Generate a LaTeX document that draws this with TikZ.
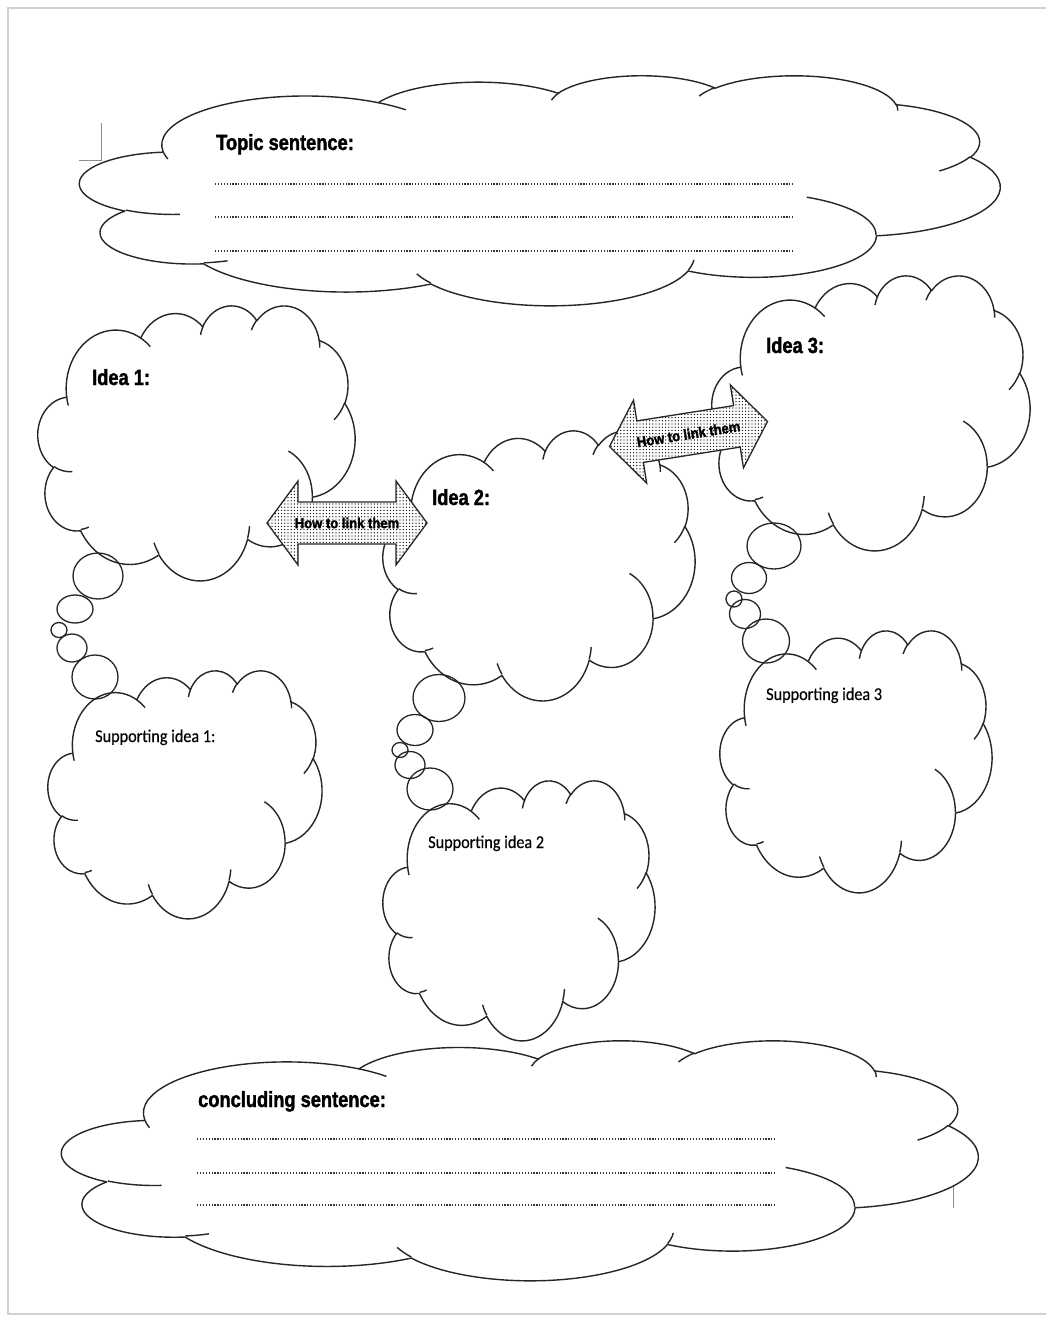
\documentclass[tikz,border=0pt]{standalone}
\usepackage{fontspec}
\usetikzlibrary{patterns,shapes.geometric}
\setmainfont{Liberation Sans}
\newfontfamily\headfont[FakeStretch=0.83, BoldFeatures={FakeBold=1.6}]{Liberation Sans}
\newfontfamily\linkfont[FakeStretch=0.9, BoldFeatures={FakeBold=1.8}]{Liberation Sans}
\newfontfamily\notefont[FakeStretch=0.9, FakeBold=0.3]{Carlito}

% dots for the link arrows
\pgfdeclarepatternformonly{linkdots}{\pgfqpoint{-1pt}{-1pt}}{\pgfqpoint{1pt}{1pt}}{\pgfqpoint{3.2pt}{3.2pt}}{%
  \pgfpathcircle{\pgfqpoint{0pt}{0pt}}{0.72pt}\pgfusepath{fill}}

% One arc of the cloud outline: id, x radius, y radius, start, sweep.
% Angles are taken as directions seen from the centre and turned into
% the parametric angles that TikZ arcs use.
\makeatletter
\newcommand\cloudarc[5]{%
  \pgfmathsetmacro\cl@s{atan2(#2*sin(#4),#3*cos(#4))}%
  \pgfmathsetmacro\cl@e{atan2(#2*sin(#4+#5),#3*cos(#4+#5))}%
  \pgfmathsetmacro\cl@d{mod(\cl@e-\cl@s+720,360)}%
  \expandafter\xdef\csname cloudarc@#1\endcsname{arc[start angle=\cl@s, delta angle=\cl@d, x radius=#2, y radius=#3]}%
}
\newcommand\ca[1]{\csname cloudarc@#1\endcsname}
% outline puffs (box 4320 x 4320)
\cloudarc{a1}{675.3}{919.0}{-190.4875}{123.7805}
\cloudarc{a2}{533.3}{726.7}{-144.1024}{89.9452}
\cloudarc{a3}{436.5}{594.5}{-145.8079}{99.7230}
\cloudarc{a4}{485.7}{659.5}{-130.9861}{117.2417}
\cloudarc{a5}{533.3}{727.3}{-78.7089}{109.0269}
\cloudarc{a6}{677.5}{922.0}{-46.2673}{130.2690}
\cloudarc{a7}{578.5}{786.7}{0.6250}{114.0333}
\cloudarc{a8}{675.2}{921.5}{22.4516}{115.1726}
\cloudarc{a9}{772.0}{1054.3}{66.2426}{75.7110}
\cloudarc{a10}{436.0}{591.8}{-274.9421}{146.7356}
\cloudarc{a11}{434.5}{594.5}{-246.8285}{152.5189}
% short inner strokes where the puffs meet
\cloudarc{i1}{434.5}{594.5}{86.7420}{26.4295}
\cloudarc{i2}{436.0}{591.8}{73.6105}{11.4475}
\cloudarc{i3}{675.2}{921.5}{137.6242}{14.0811}
\cloudarc{i4}{675.2}{921.5}{6.4533}{15.9984}
\cloudarc{i5}{578.5}{786.7}{-70.2924}{70.9174}
\cloudarc{i6}{533.3}{727.3}{30.3180}{27.7515}
\cloudarc{i7}{485.7}{659.5}{-13.7443}{14.8589}
\cloudarc{i8}{485.7}{659.5}{-149.1815}{18.1954}
\cloudarc{i9}{436.5}{594.5}{-163.4943}{17.6864}
\cloudarc{i10}{675.3}{919.0}{-66.7070}{12.3194}
\cloudarc{i11}{675.3}{919.0}{157.6544}{11.8582}
\xdef\cloudoutline{(390,1437) \ca{a1} \ca{a2} \ca{a3} \ca{a4} \ca{a5} \ca{a6}
  \ca{a7} \ca{a8} \ca{a9} \ca{a10} \ca{a11} -- cycle}
\xdef\cloudinner{(469.3,2617.7) \ca{i1} (692.8,3489.9) \ca{i2}
  (1647.8,3909.0) \ca{i3} (2882.7,3475.1) \ca{i4} (3412.9,2295.4) \ca{i5}
  (4179.8,1535.4) \ca{i6} (3832.4,542.6) \ca{i7} (2907.8,395.2) \ca{i8}
  (2214.1,472.0) \ca{i9} (1400.0,519.2) \ca{i10} (412.7,1578.9) \ca{i11}}
\makeatother

% name, left, top, width, height
\newcommand\wordcloud[5]{%
  \node[inner sep=0pt, minimum width=#4pt, minimum height=#5pt, anchor=north west] (#1) at (#2,#3) {};
  \begin{scope}[shift={(#2,#3)}, xscale=#4/4320, yscale=#5/4320]
    \filldraw[cloudline, fill=white] \cloudoutline;
    \draw[cloudline] \cloudinner;
  \end{scope}
}

\begin{document}
\begin{tikzpicture}[x=1pt,y=-1pt,
  cloudline/.style={line width=1.4pt, draw=black!85, line join=round},
  bubble/.style={ellipse, draw=black!85, line width=1.3pt, inner sep=0pt},
  heading/.style={anchor=base west, inner sep=0pt, font=\headfont\bfseries\fontsize{22}{26}\selectfont},
  note/.style={anchor=base west, inner sep=0pt, font=\notefont\fontsize{18}{22}\selectfont},
  linkarrow/.style={draw=black!85, line width=1.3pt, line join=miter, preaction={fill=white}, pattern=linkdots, pattern color=black!90},
  linktext/.style={inner sep=0pt, font=\linkfont\bfseries\fontsize{14.5}{17}\selectfont},
  writeline/.style={line width=1.3pt, dash pattern=on 1.2pt off 1.7pt, draw=black!80},
  frame/.style={draw=black!18, line width=2pt},
  cropmark/.style={draw=black!45, line width=0.8pt}]

\fill[white] (0,0) rectangle (1046,1320);
\useasboundingbox (0,0) rectangle (1046,1320);

% page edge and corner marks
\draw[frame] (1046,7.5) -- (7.5,7.5) -- (7.5,1313.5) -- (1046,1313.5);
\draw[cropmark] (101,123) -- (101,160) -- (79,160);
\draw[cropmark] (953,1180) -- (953,1208);

% clouds
\wordcloud{topic}{80}{75}{920}{230}
\wordcloud{ideaone}{38}{305}{317}{275}
\wordcloud{ideatwo}{383}{430}{312}{270}
\wordcloud{ideathree}{712}{275}{318}{275}
\wordcloud{supone}{48}{670}{274}{248}
\wordcloud{suptwo}{383}{780}{272}{260}
\wordcloud{supthree}{720}{630}{272}{262}
\wordcloud{concl}{62}{1040}{916}{240}

% thought bubbles
\node[bubble, minimum width=50pt, minimum height=46pt] (la) at (98,576) {};
\node[bubble, minimum width=36pt, minimum height=28pt] (lb) at (75,609) {};
\node[bubble, minimum width=16pt, minimum height=15pt] (lc) at (59,630) {};
\node[bubble, minimum width=30pt, minimum height=28pt] (ld) at (72,648) {};
\node[bubble, minimum width=46pt, minimum height=44pt] (le) at (95,677) {};

\node[bubble, minimum width=52pt, minimum height=47pt] (ma) at (439,698) {};
\node[bubble, minimum width=36pt, minimum height=31pt] (mb) at (415,730) {};
\node[bubble, minimum width=16pt, minimum height=15pt] (mc) at (400,750) {};
\node[bubble, minimum width=30pt, minimum height=27pt] (md) at (410,765) {};
\node[bubble, minimum width=46pt, minimum height=42pt] (me) at (430,789) {};

\node[bubble, minimum width=54pt, minimum height=46pt] (ra) at (774,546) {};
\node[bubble, minimum width=35pt, minimum height=31pt] (rb) at (749,578) {};
\node[bubble, minimum width=16pt, minimum height=16pt] (rc) at (734,599) {};
\node[bubble, minimum width=31pt, minimum height=29pt] (rd) at (745,614) {};
\node[bubble, minimum width=47pt, minimum height=44pt] (re) at (766,641) {};

% link arrows
\begin{scope}[shift={(347,523)}]
  \filldraw[linkarrow] (-80,0) -- (-49,-42) -- (-49,-21) -- (49,-21) -- (49,-42)
    -- (80,0) -- (49,42) -- (49,21) -- (-49,21) -- (-49,42) -- cycle;
  \node[linktext] (linkone) at (0,0) {How to link them};
\end{scope}
\begin{scope}[shift={(688.5,434)}, rotate=9]
  \filldraw[linkarrow] (-80,0) -- (-49,-42) -- (-49,-21) -- (49,-21) -- (49,-42)
    -- (80,0) -- (49,42) -- (49,21) -- (-49,21) -- (-49,42) -- cycle;
  \node[linktext, rotate=9] (linktwo) at (0,0) {How to link them};
\end{scope}

% headings and notes
\node[heading] (topiclabel) at (216,150) {Topic sentence:};
\node[heading] (ideaonelabel) at (92,385) {Idea 1:};
\node[heading] (ideatwolabel) at (432,505) {Idea 2:};
\node[heading] (ideathreelabel) at (766,353) {Idea 3:};
\node[heading] (concllabel) at (198,1107) {concluding sentence:};
\node[note] (suponelabel) at (95,742) {Supporting idea 1:};
\node[note] (suptwolabel) at (428,848) {Supporting idea 2};
\node[note] (supthreelabel) at (766,700) {Supporting idea 3};

% lines to write on
\draw[writeline] (215,184) -- (793,184);
\draw[writeline] (215,217) -- (793,217);
\draw[writeline] (215,251) -- (793,251);
\draw[writeline] (197,1139) -- (775,1139);
\draw[writeline] (197,1173) -- (775,1173);
\draw[writeline] (197,1205) -- (775,1205);
\end{tikzpicture}
\end{document}
